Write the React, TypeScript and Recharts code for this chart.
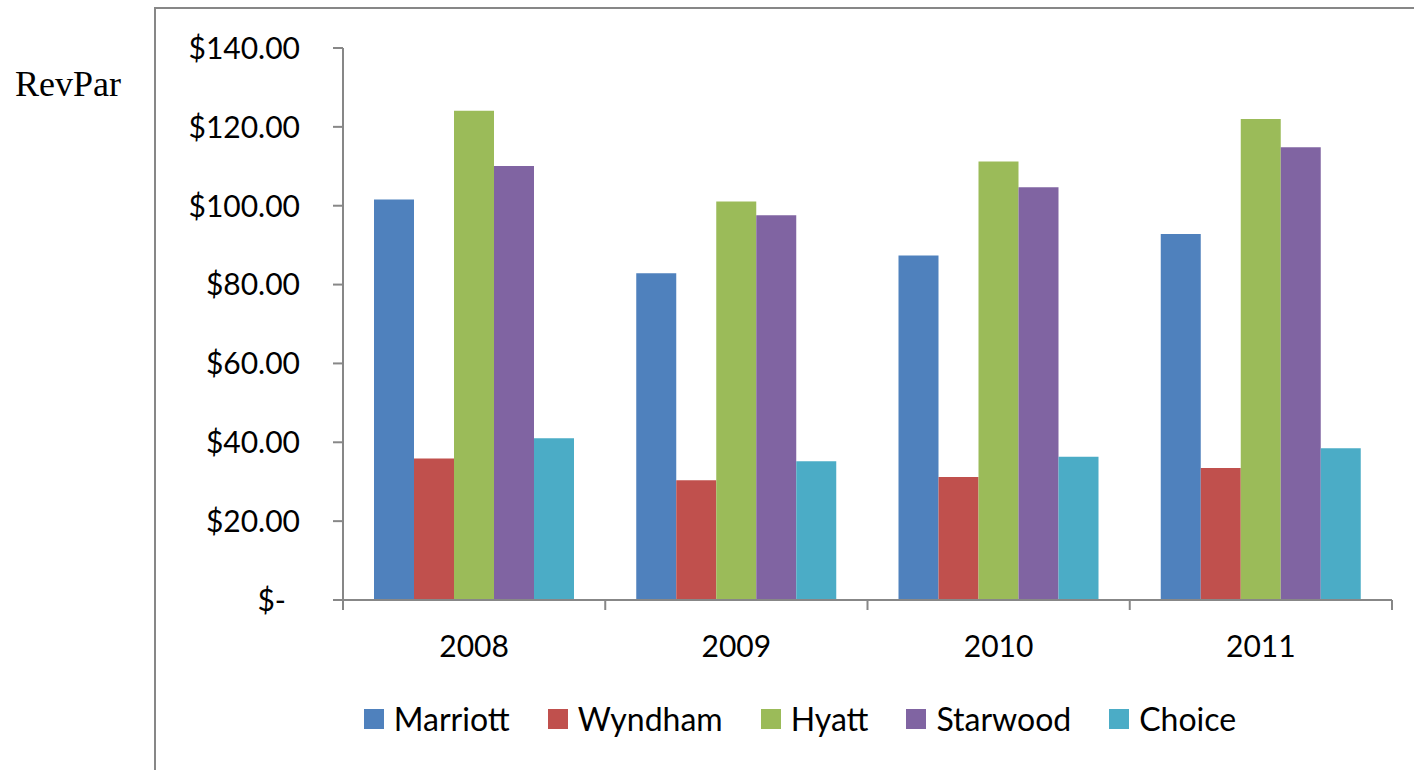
import { Bar, BarChart, XAxis, YAxis } from "recharts";

const years = ["2008", "2009", "2010", "2011"];
const marriott = [101.6, 82.9, 87.4, 92.8];
const wyndham = [35.9, 30.4, 31.2, 33.5];
const hyatt = [124.1, 101.1, 111.2, 122.0];
const starwood = [110.1, 97.6, 104.7, 114.8];
const choice = [41.0, 35.2, 36.3, 38.5];
const yTicks = [0, 20, 40, 60, 80, 100, 120, 140];

const series = [
  { key: "Marriott", values: marriott, color: "#4F81BD" },
  { key: "Wyndham", values: wyndham, color: "#C0504D" },
  { key: "Hyatt", values: hyatt, color: "#9BBB59" },
  { key: "Starwood", values: starwood, color: "#8064A2" },
  { key: "Choice", values: choice, color: "#4BACC6" }
];

const chartData = years.map((year, i) => {
  const row: any = { year };
  series.forEach((s) => {
    row[s.key] = s.values[i];
  });
  return row;
});

const FONT = "Lato, 'Open Sans', sans-serif";
const AXIS_COLOR = "#878787";

// y labels in Excel accounting format, zero shows as "$-"
const YTick = (props: any) => {
  const { x, y, payload } = props;
  const isZero = payload.value === 0;
  return (
    <text x={isZero ? x - 14 : x} y={y} dy="0.36em" textAnchor="end" fill="#000" fontSize={30} fontFamily={FONT}>
      {isZero ? "$-" : `$${payload.value.toFixed(2)}`}
    </text>
  );
};

// x tick marks sit between categories, label in the middle
const XTick = (props: any) => {
  const { x, y, payload, index, visibleTicksCount } = props;
  const half = payload?.offset ?? 131;
  const isLast = index === (visibleTicksCount ?? years.length) - 1;
  return (
    <g>
      <line x1={x - half} y1={y} x2={x - half} y2={y + 10} stroke={AXIS_COLOR} strokeWidth={2} />
      {isLast && <line x1={x + half} y1={y} x2={x + half} y2={y + 10} stroke={AXIS_COLOR} strokeWidth={2} />}
      <text x={x} y={y + 36} dy="0.71em" textAnchor="middle" fill="#000" fontSize={30} fontFamily={FONT}>
        {payload.value}
      </text>
    </g>
  );
};

const App = () => (
  <div style={{ position: "fixed", left: 0, top: 0, width: 1414, height: 770, background: "#fff", overflow: "hidden" }}>
    <div
      style={{
        position: "absolute",
        left: 154,
        top: 7,
        width: 1300,
        height: 800,
        borderLeft: `2px solid ${AXIS_COLOR}`,
        borderTop: `2px solid ${AXIS_COLOR}`
      }}
    />
    <div
      style={{
        position: "absolute",
        left: 15,
        top: 62,
        fontFamily: "'Liberation Serif', 'Times New Roman', serif",
        fontSize: 36,
        lineHeight: "44px",
        color: "#000"
      }}
    >
      RevPar
    </div>
    <div style={{ position: "absolute", left: 0, top: 0 }}>
      <BarChart width={1414} height={770} data={chartData} margin={{ top: 48, right: 22, left: 0, bottom: 110 }} barCategoryGap={31} barGap={0}>
        <XAxis
          dataKey="year"
          height={60}
          axisLine={{ stroke: AXIS_COLOR, strokeWidth: 2 }}
          tickLine={false}
          tickSize={0}
          tickMargin={0}
          interval={0}
          tick={(p: any) => <XTick {...p} />}
        />
        <YAxis
          width={343}
          domain={[0, 140]}
          ticks={yTicks}
          interval={0}
          axisLine={{ stroke: AXIS_COLOR, strokeWidth: 2 }}
          tickLine={{ stroke: AXIS_COLOR, strokeWidth: 2 }}
          tickSize={10}
          tickMargin={33}
          tick={(p: any) => <YTick {...p} />}
        />
        {series.map((s) => (
          <Bar key={s.key} dataKey={s.key} fill={s.color} isAnimationActive={false} />
        ))}
      </BarChart>
    </div>
    <div
      style={{
        position: "absolute",
        left: 155,
        width: 1290,
        top: 699,
        display: "flex",
        justifyContent: "center",
        alignItems: "center",
        gap: 38,
        fontFamily: FONT,
        fontSize: 32,
        color: "#000"
      }}
    >
      {series.map((s) => (
        <div key={s.key} style={{ display: "flex", alignItems: "center" }}>
          <span style={{ display: "inline-block", width: 20, height: 20, background: s.color, marginRight: 10 }} />
          <span>{s.key}</span>
        </div>
      ))}
    </div>
  </div>
);

export default App;
